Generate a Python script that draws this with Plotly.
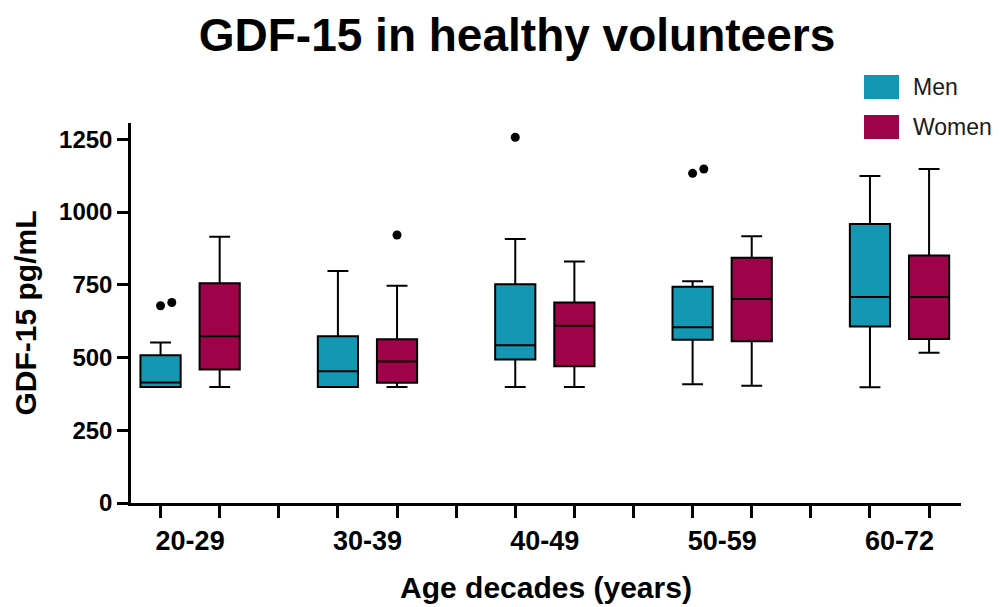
import plotly.graph_objects as go

# ---- data ----
age_groups = ["20-29", "30-39", "40-49", "50-59", "60-72"]
series_names = ["Men", "Women"]

men_lower = [399, 399, 399, 408, 398]
men_q1 = [399, 399, 493, 561, 607]
men_median = [414, 453, 542, 604, 708]
men_q3 = [508, 573, 752, 743, 959]
men_upper = [552, 797, 907, 762, 1124]
men_outliers = [[678, 689], [], [1257], [1133, 1148], []]

women_lower = [399, 399, 399, 403, 516]
women_q1 = [459, 413, 470, 556, 564]
women_median = [573, 486, 609, 701, 708]
women_q3 = [755, 563, 689, 843, 851]
women_upper = [915, 747, 830, 917, 1148]
women_outliers = [[], [921], [], [], []]

y_ticks = [0, 250, 500, 750, 1000, 1250]
colors = ["#1497B3", "#9E0349"]

# ---- layout constants ----
W, H = 1000, 607
L, R, T, B = 131, 39, 123, 104
FONT = "Liberation Sans, Arial, sans-serif"
GROUP_STEP = 3  # men, women, gap

fig = go.Figure()

stats = [
    (men_lower, men_q1, men_median, men_q3, men_upper, men_outliers),
    (women_lower, women_q1, women_median, women_q3, women_upper, women_outliers),
]

for s, (lo, q1, med, q3, up, outl) in enumerate(stats):
    xs = [GROUP_STEP * i + s for i in range(len(age_groups))]
    fig.add_trace(go.Box(
        x=xs, lowerfence=lo, q1=q1, median=med, q3=q3, upperfence=up,
        fillcolor=colors[s], line=dict(color="black", width=2),
        width=0.68, whiskerwidth=0.52, boxpoints=False,
        name=series_names[s], showlegend=False, hoverinfo="skip",
    ))
    ox, oy = [], []
    for i, pts in enumerate(outl):
        for k, v in enumerate(pts):
            ox.append(xs[i] + 0.19 * k)
            oy.append(v)
    if ox:
        fig.add_trace(go.Scatter(
            x=ox, y=oy, mode="markers",
            marker=dict(color="black", size=9, symbol="circle"),
            showlegend=False, hoverinfo="skip",
        ))

n = len(age_groups)
label_pos = [GROUP_STEP * i + 0.5 for i in range(n)]
minor_pos = [GROUP_STEP * i + j for i in range(n) for j in range(3) if GROUP_STEP * i + j <= GROUP_STEP * (n - 1) + 1]

fig.update_layout(
    width=W, height=H,
    margin=dict(l=L, r=R, t=T, b=B, pad=0, autoexpand=False),
    paper_bgcolor="white", plot_bgcolor="white",
    boxmode="overlay",
    showlegend=False,
    font=dict(family=FONT, color="black"),
    title=dict(
        text="GDF-15 in healthy volunteers",
        font=dict(family=FONT, size=46, weight="bold", color="black"),
        x=0.517, xanchor="center", xref="container",
        y=1 - 35 / H, yanchor="middle", yref="container",
    ),
    xaxis=dict(
        range=[-0.5, 13.54], automargin=False,
        tickmode="array", tickvals=label_pos, ticktext=age_groups,
        ticks="outside", ticklen=12, tickcolor="rgba(0,0,0,0)",
        tickfont=dict(family=FONT, size=27, weight="bold", color="black"),
        minor=dict(tickmode="array", tickvals=minor_pos, ticks="outside",
                   ticklen=12, tickwidth=2.5, tickcolor="black", showgrid=False),
        showline=True, linecolor="black", linewidth=2.5,
        showgrid=False, zeroline=False,
        title=dict(text="Age decades (years)", standoff=22,
                   font=dict(family=FONT, size=30, weight="bold", color="black")),
    ),
    yaxis=dict(
        range=[0, 1306], automargin=False,
        tickmode="array", tickvals=y_ticks, ticktext=[str(v) for v in y_ticks],
        ticks="outside", ticklen=11, tickwidth=2.5, tickcolor="black",
        tickfont=dict(family=FONT, size=24, weight="bold", color="black"),
        showline=True, linecolor="black", linewidth=2.5,
        showgrid=False, zeroline=False,
        title=dict(text="GDF-15 pg/mL", standoff=14,
                   font=dict(family=FONT, size=30, weight="bold", color="black")),
    ),
)

# ---- legend (drawn in paper space) ----
pw, ph = W - L - R, H - T - B
def px2x(px):
    return (px - L) / pw
def py2y(py):
    return (H - B - py) / ph

legend_rows = [(75, 99), (115, 139)]
for name, col, (y0, y1) in zip(series_names, colors, legend_rows):
    fig.add_shape(type="rect", xref="paper", yref="paper",
                  x0=px2x(864), x1=px2x(899), y0=py2y(y1), y1=py2y(y0),
                  fillcolor=col, line=dict(width=0), layer="above")
    fig.add_annotation(text=name, xref="paper", yref="paper",
                       x=px2x(911), y=py2y((y0 + y1) / 2),
                       xanchor="left", yanchor="middle", showarrow=False,
                       font=dict(family=FONT, size=23, color="#1a1a1a"))

fig.write_html("out.html")
